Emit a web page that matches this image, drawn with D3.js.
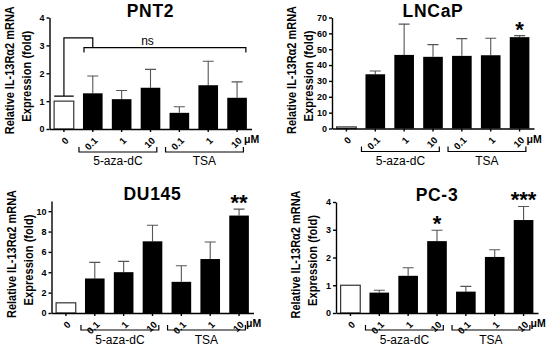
<!DOCTYPE html>
<html>
<head>
<meta charset="utf-8">
<script src="https://cdn.jsdelivr.net/npm/d3@7"></script>
<style>
  body { margin: 0; background: #fff; }
  svg { display: block; font-family: "Liberation Sans", Arial, sans-serif; }
  .tick text { font-weight: bold; }
</style>
</head>
<body>
<svg id="chart" width="550" height="353"></svg>
<script>
// dose of each bar (µM); first bar is the untreated control
const doseLabels = ["0", "0.1", "1", "10", "0.1", "1", "10"];
const drugGroups = ["5-aza-dC", "TSA"];

const pnt2Mean = [1.0, 1.28, 1.07, 1.48, 0.58, 1.57, 1.12];
const pnt2Err  = [0, 0.62, 0.31, 0.66, 0.22, 0.86, 0.57];
const pnt2Sig  = ["", "", "", "", "", "", ""];

const lncapMean = [1.0, 34.2, 46.4, 45.2, 45.8, 46.2, 57.6];
const lncapErr  = [0, 2.1, 19.4, 7.7, 10.9, 10.7, 1.0];
const lncapSig  = ["", "", "", "", "", "", "*"];

const du145Mean = [1.0, 3.39, 4.01, 7.04, 3.06, 5.30, 9.57];
const du145Err  = [0, 1.58, 1.06, 1.58, 1.58, 1.67, 0.63];
const du145Sig  = ["", "", "", "", "", "", "**"];

const pc3Mean = [1.0, 0.735, 1.34, 2.59, 0.77, 2.02, 3.35];
const pc3Err  = [0, 0.085, 0.29, 0.39, 0.19, 0.26, 0.49];
const pc3Sig  = ["", "", "", "*", "", "", "***"];

const panels = [
  { title: "PNT2", mean: pnt2Mean, err: pnt2Err, sig: pnt2Sig, yMax: 4, ticks: [0, 1, 2, 3, 4],
    axisX: 49.5, top: 17.5, bottom: 129, titleY: 17, brDy: 23, brLabelDy: 36, ns: true },
  { title: "LNCaP", mean: lncapMean, err: lncapErr, sig: lncapSig, yMax: 70, ticks: d3.range(0, 71, 10),
    axisX: 332, top: 17.5, bottom: 128.5, titleY: 17, brDy: 23, brLabelDy: 36 },
  { title: "DU145", mean: du145Mean, err: du145Err, sig: du145Sig, yMax: 11, ticks: d3.range(0, 11, 2),
    axisX: 51.5, top: 201, bottom: 313, titleY: 200, brDy: 17, brLabelDy: 31 },
  { title: "PC-3", mean: pc3Mean, err: pc3Err, sig: pc3Sig, yMax: 4, ticks: [0, 1, 2, 3, 4],
    axisX: 336, top: 202, bottom: 313, titleY: 201, brDy: 17, brLabelDy: 31 }
];

const svg = d3.select("#chart");

// rotated label squeezed along its length to a target size
function yLabel(g, str, cx, cy, len) {
  const t = g.append("text").attr("text-anchor", "middle").attr("dy", "0.35em")
    .attr("font-weight", "bold").attr("font-size", 12.5).text(str);
  const s = Math.min(1, len / t.node().getComputedTextLength());
  t.attr("transform", `translate(${cx},${cy}) rotate(-90) scale(${s},1)`);
}

panels.forEach(p => {
  const g = svg.append("g");
  const idx = d3.range(doseLabels.length);
  const x = d3.scaleBand().domain(idx)
    .range([p.axisX, p.axisX + 202]).paddingInner(0.32).paddingOuter(0.16);
  const y = d3.scaleLinear().domain([0, p.yMax]).range([p.bottom, p.top]);
  const bw = x.bandwidth(), cx = i => x(i) + bw / 2;

  // error bars (upper only)
  g.selectAll(".err").data(idx.filter(i => p.err[i] > 0)).join("path")
    .attr("d", i => {
      const yt = y(p.mean[i] + p.err[i]);
      return `M${cx(i)},${y(p.mean[i])}V${yt}M${cx(i) - 5.5},${yt}H${cx(i) + 5.5}`;
    })
    .attr("stroke", "#555").attr("stroke-width", 1.1).attr("fill", "none");

  g.selectAll(".bar").data(idx).join("rect")
    .attr("x", i => x(i)).attr("width", bw)
    .attr("y", i => y(p.mean[i])).attr("height", i => p.bottom - y(p.mean[i]))
    .attr("fill", i => i === 0 ? "#fff" : "#000")
    .attr("stroke", i => i === 0 ? "#333" : "none")
    .attr("stroke-width", 1.2);

  // axes
  g.append("g").attr("transform", `translate(${p.axisX},0)`)
    .call(d3.axisLeft(y).tickValues(p.ticks).tickFormat(d3.format("d"))
      .tickSize(3).tickSizeOuter(0).tickPadding(2))
    .call(a => a.selectAll("text").style("font-size", "9px"))
    .call(a => a.selectAll("path,line").attr("stroke-width", 1.4));

  g.append("g").attr("transform", `translate(0,${p.bottom})`)
    .call(d3.axisBottom(x).tickSize(3).tickSizeOuter(0).tickFormat(i => doseLabels[i]))
    .call(a => a.selectAll("path,line").attr("stroke-width", 1.4))
    .call(a => a.selectAll("text")
      .attr("x", 0).attr("y", 0).attr("dy", "0.35em")
      .attr("text-anchor", "end")
      .attr("transform", "translate(3,10) rotate(-45)")
      .style("font-size", "9.5px"));

  g.append("text").attr("x", cx(doseLabels.length - 1) + 7).attr("y", p.bottom + 14)
    .attr("font-weight", "bold").attr("font-size", 10.5).text("μM");

  // drug brackets
  [[1, 3], [4, 6]].forEach(([a, b], k) => {
    const x0 = x(a) - 4, x1 = x(b) + bw - 3.5, yb = p.bottom + p.brDy;
    g.append("path").attr("d", `M${x0},${yb - 5}V${yb}H${x1}V${yb - 5}`)
      .attr("fill", "none").attr("stroke", "#000").attr("stroke-width", 1.2);
    g.append("text").attr("x", (x0 + x1) / 2).attr("y", p.bottom + p.brLabelDy)
      .attr("text-anchor", "middle").attr("font-size", 12).text(drugGroups[k]);
  });

  // significance marks
  g.selectAll(".sig").data(idx.filter(i => p.sig[i])).join("text")
    .attr("x", i => cx(i)).attr("y", i => y(p.mean[i] + p.err[i]) + 1)
    .attr("text-anchor", "middle").attr("font-weight", "bold").attr("font-size", 22)
    .text(i => p.sig[i]);

  if (p.ns) {
    const last = doseLabels.length - 1;
    g.append("path")
      .attr("d", `M${x(0)},${y(1.18)}H${x(0) + bw}M${cx(0)},${y(1.18)}V${y(3.27)}H${cx(1)}V${y(2.92)}`)
      .attr("fill", "none").attr("stroke", "#000").attr("stroke-width", 1.2);
    g.append("path")
      .attr("d", `M${x(1) + 1},${y(2.74)}V${y(2.92)}H${x(last) + bw - 1}V${y(2.74)}`)
      .attr("fill", "none").attr("stroke", "#000").attr("stroke-width", 1.2);
    g.append("text").attr("x", cx(3) - 3).attr("y", y(3.03))
      .attr("text-anchor", "middle").attr("font-size", 12).text("ns");
  }

  // title
  g.append("text").attr("x", (x(0) + x(doseLabels.length - 1) + bw) / 2).attr("y", p.titleY)
    .attr("text-anchor", "middle").attr("font-weight", "bold").attr("font-size", 17.5)
    .attr("letter-spacing", 0.7).text(p.title);

  // y label (two lines)
  const mid = (p.top + p.bottom) / 2;
  const ex = p.axisX - 23;
  yLabel(g, "Relative IL-13Rα2 mRNA", ex - 17, mid - 3, 128);
  yLabel(g, "Expression (fold)", ex, mid + 3, 91);
});
</script>
</body>
</html>
